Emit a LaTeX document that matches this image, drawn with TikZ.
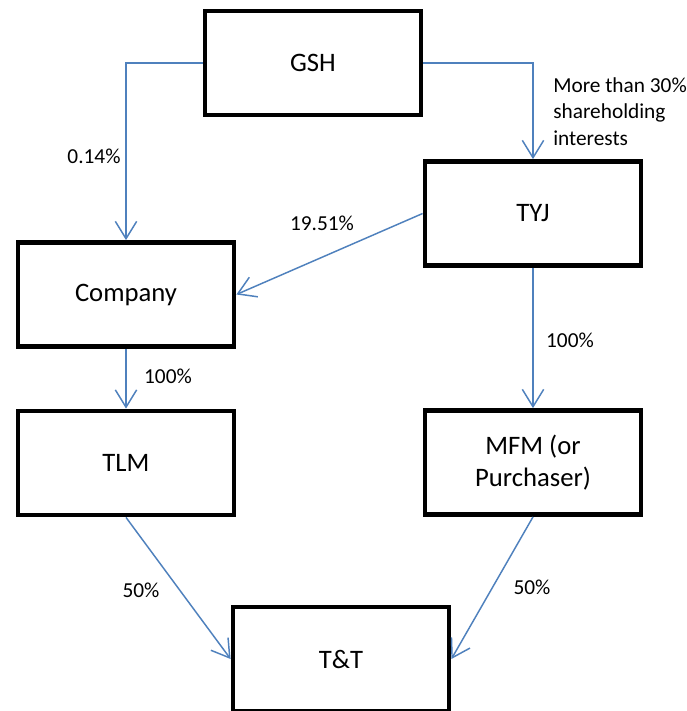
\documentclass[tikz,border=0pt]{standalone}
\usepackage{fontspec}
\setmainfont{Carlito}
\usetikzlibrary{arrows.meta}
\definecolor{linkblue}{RGB}{79,129,189}
\tikzset{
    entity/.style={shape=rectangle,draw=black,line width=3.6pt,minimum width=162pt,minimum height=78pt,
        align=center,font=\fontsize{20}{24}\selectfont},
    share/.style={font=\fontsize{16}{20}\selectfont,inner sep=0pt},
    hold/.style={draw=linkblue,line width=1.1pt,-{Straight Barb[length=13pt,width=16pt]}}
}
\begin{document}
\begin{tikzpicture}[x=0.75pt,y=-0.75pt]
        \useasboundingbox (0,0) rectangle (686,711);
        \fill[white] (0,0) rectangle (686,711);

        \node[entity] (GSH) at (313,63) {GSH};
        \node[entity] (TYJ) at (533,213.5) {TYJ};
        \node[entity] (C) at (126,294.5) {Company};
        \node[entity] (TLM) at (126,463) {TLM};
        \node[entity] (MFM) at (533,462.5) {MFM (or\\Purchaser)};
        \node[entity] (TT) at (341,659) {T\&T};

        % shareholdings
        \draw[hold] (GSH.west) -| (C.north);
        \draw[hold] (GSH.east) -| (TYJ.north);
        \draw[hold] (TYJ.west) -- (C.east);
        \draw[hold] (TYJ.south) -- (MFM.north);
        \draw[hold] (C.south) -- (TLM.north);
        \draw[hold] (TLM.south) -- (TT.west);
        \draw[hold] (MFM.south) -- (TT.east);

        % percentages
        \node[share] (p1) at (94,156) {0.14\%};
        \node[share,anchor=north west,align=left] (p2) at (553,77) {More than 30\%\\shareholding\\interests};
        \node[share] (p3) at (322,223) {19.51\%};
        \node[share] (p4) at (570,340) {100\%};
        \node[share] (p5) at (168,376) {100\%};
        \node[share] (p6) at (141,590) {50\%};
        \node[share] (p7) at (532,587) {50\%};
    \end{tikzpicture}
\end{document}
